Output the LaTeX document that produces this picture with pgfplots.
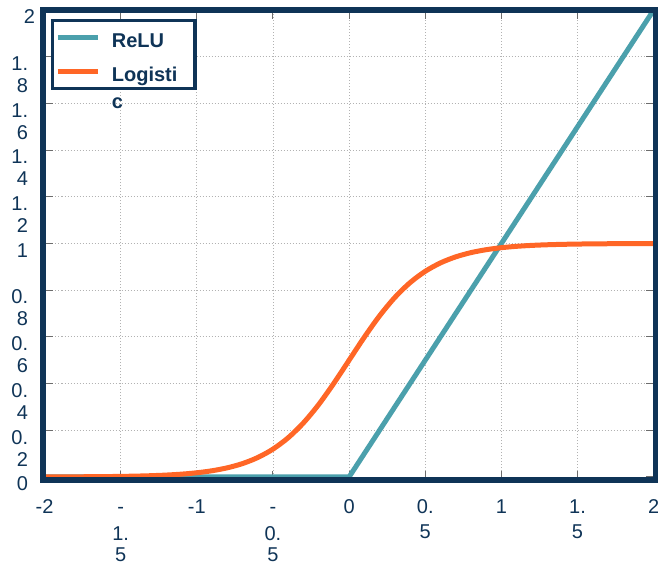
\documentclass[border=0pt]{standalone}
\usepackage{fontspec}
\setmainfont{Liberation Sans}
\usepackage{pgfplots}
\pgfplotsset{compat=1.18}
\definecolor{navy}{RGB}{15,52,87}
\definecolor{reluc}{RGB}{75,160,172}
\definecolor{logc}{RGB}{255,102,38}
\newcommand{\tl}[1]{\begin{tabular}[t]{@{}c@{}}#1\end{tabular}}
\newcommand{\tr}[1]{\begin{tabular}[t]{@{}r@{}}#1\end{tabular}}
\begin{document}
\begin{tikzpicture}
\begin{axis}[
  scale only axis, width=612pt, height=470pt,
  xmin=-2.0066, xmax=2.012, ymin=-0.013, ymax=2,
  axis line style={draw=none},
  clip=true,
  xtick={-2,-1.5,-1,-0.5,0,0.5,1,1.5,2},
  xticklabels={-2,{\tl{-\\[6.5pt]1.\\5}},-1,{\tl{-\\[6.5pt]0.\\5}},0,{\tl{0.\\[4.5pt]5}},1,{\tl{1.\\[4.5pt]5}},2},
  ytick={0,0.2,0.4,0.6,0.8,1,1.2,1.4,1.6,1.8,2},
  yticklabels={0,{\tr{0.\\2}},{\tr{0.\\4}},{\tr{0.\\6}},{\tr{0.\\8}},1,{\tr{1.\\2}},{\tr{1.\\4}},{\tr{1.\\6}},{\tr{1.\\8}},{2\kern-7pt}},
  xticklabel style={anchor=base, yshift=-33.5pt, inner sep=0pt, font=\fontsize{20}{20.5}\selectfont, text=navy},
  yticklabel style={anchor=base east, xshift=-15.2pt, yshift=-13.8pt, inner sep=0pt, font=\fontsize{20}{22}\selectfont, text=navy},
  grid=major,
  major grid style={dash pattern=on 1pt off 2pt, color=gray!60, line width=0.8pt},
  major tick length=9.5pt,
  tick style={color=gray!85!black, line width=1.1pt},
  legend cell align=left,
  legend style={
    at={(0,1)}, anchor=north west, xshift=8.9pt, yshift=-10.75pt,
    draw=navy, line width=3.5pt, fill=white, inner sep=0pt, outer sep=0pt,
    column sep=10pt, row sep=0pt,
    nodes={font=\fontsize{20}{24}\selectfont\bfseries, text=navy, inner xsep=4pt, inner ysep=7pt,
      text height=20pt, text depth=0pt, text width=79pt, align=left},
  },
  legend image code/.code={\path[draw=none, fill=none] (0pt,-1pt) rectangle (45.5pt,1pt); \draw[#1, overlay] (5.6pt,0pt) -- (45.6pt,0pt);},
]
\addplot[reluc, line width=5pt] coordinates {(-2.1,0) (0,0) (2.1,2.1)};
\addlegendentry{ReLU}
\addplot[logc, line width=5pt, smooth] coordinates {
(-2.1,0.000225) (-2.0,0.000335) (-1.9,0.000500) (-1.8,0.000746) (-1.7,0.001113) (-1.6,0.001659)
(-1.5,0.002473) (-1.4,0.003684) (-1.3,0.005486) (-1.2,0.008163) (-1.1,0.012128)
(-1.0,0.017986) (-0.9,0.026597) (-0.8,0.039166) (-0.7,0.057324) (-0.6,0.083173)
(-0.5,0.119203) (-0.4,0.167982) (-0.3,0.231475) (-0.2,0.310026) (-0.1,0.401312)
(0,0.5) (0.1,0.598688) (0.2,0.689974) (0.3,0.768525) (0.4,0.832018)
(0.5,0.880797) (0.6,0.916827) (0.7,0.942676) (0.8,0.960834) (0.9,0.973403)
(1.0,0.982014) (1.1,0.987872) (1.2,0.991837) (1.3,0.994514) (1.4,0.996316)
(1.5,0.997527) (1.6,0.998341) (1.7,0.998887) (1.8,0.999254) (1.9,0.999500)
(2.0,0.999665) (2.1,0.999775)};
\addlegendentry{\rlap{\raisebox{-26.5pt}[0pt][0pt]{c}}Logisti}
\end{axis}
\draw[navy, line width=6pt] (current axis.south west) rectangle (current axis.north east);
\pgfresetboundingbox
\path[use as bounding box] ([xshift=-43.5pt,yshift=-83pt]current axis.south west) rectangle ([xshift=2.5pt,yshift=10pt]current axis.north east);
\end{tikzpicture}
\end{document}
